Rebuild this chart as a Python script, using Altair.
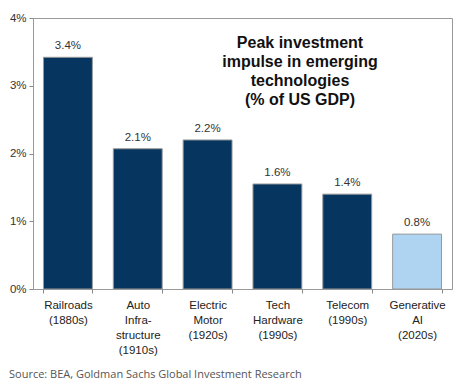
import altair as alt
import pandas as pd

categories = ["Railroads|(1880s)", "Auto|Infra-|structure|(1910s)", "Electric|Motor|(1920s)",
              "Tech|Hardware|(1990s)", "Telecom|(1990s)", "Generative|AI|(2020s)"]
values = [3.42, 2.07, 2.2, 1.55, 1.4, 0.81]
labels = ["3.4%", "2.1%", "2.2%", "1.6%", "1.4%", "0.8%"]
kinds = ["hist", "hist", "hist", "hist", "hist", "ai"]
title_lines = ["Peak investment", "impulse in emerging", "technologies", "(% of US GDP)"]
source = "Source: BEA, Goldman Sachs Global Investment Research"

df = pd.DataFrame({"cat": categories, "val": values, "lab": labels, "kind": kinds})

x = alt.X("cat:N", sort=categories, title=None,
          scale=alt.Scale(paddingInner=0.3, paddingOuter=0.15),
          axis=alt.Axis(labelExpr="split(datum.label, '|')", labelAngle=0,
                        labelFont="Liberation Sans", labelFontSize=11.5, labelColor="#222",
                        labelLineHeight=15, labelPadding=6, tickBand="extent",
                        tickColor="#888", tickSize=4, domainColor="#999"))
y = alt.Y("val:Q", title=None,
          scale=alt.Scale(domain=[0, 4]),
          axis=alt.Axis(values=[0, 1, 2, 3, 4], labelExpr="datum.value + '%'",
                        grid=False, labelFont="Liberation Sans", labelFontSize=11.5,
                        labelColor="#333", tickColor="#888", tickSize=4,
                        domainColor="#999", labelPadding=3))

bars = alt.Chart(df).mark_bar(stroke="#999", strokeWidth=1).encode(
    x=x, y=y,
    color=alt.Color("kind:N", scale=alt.Scale(domain=["hist", "ai"], range=["#06355f", "#aed4f2"]),
                    legend=None))

text = alt.Chart(df).mark_text(dy=-11, font="Liberation Sans", fontSize=11.5, color="#333").encode(
    x=alt.X("cat:N", sort=categories), y="val:Q", text="lab:N")

tdf = pd.DataFrame({"t": ["\n".join(title_lines)]})
title = alt.Chart(tdf).mark_text(font="Liberation Sans", fontSize=16, fontWeight="bold",
                                 color="#111", align="center", baseline="middle",
                                 lineBreak="\n", lineHeight=19).encode(
    x=alt.value(267), y=alt.value(25), text="t:N")

sdf = pd.DataFrame({"s": [source]})
src = alt.Chart(sdf).mark_text(font="Open Sans", fontSize=11, color="#555", align="left",
                               baseline="middle").encode(
    x=alt.value(-24), y=alt.value(86 + 271), text="s:N")

chart = alt.layer(bars, text, title, src).properties(
    width=419, height=271, autosize="none",
    padding={"left": 25, "top": 10, "right": 3, "bottom": 92}
).configure_view(stroke="#999", strokeWidth=1)

chart.save("out.html", embed_options={"renderer": "svg", "actions": False})
